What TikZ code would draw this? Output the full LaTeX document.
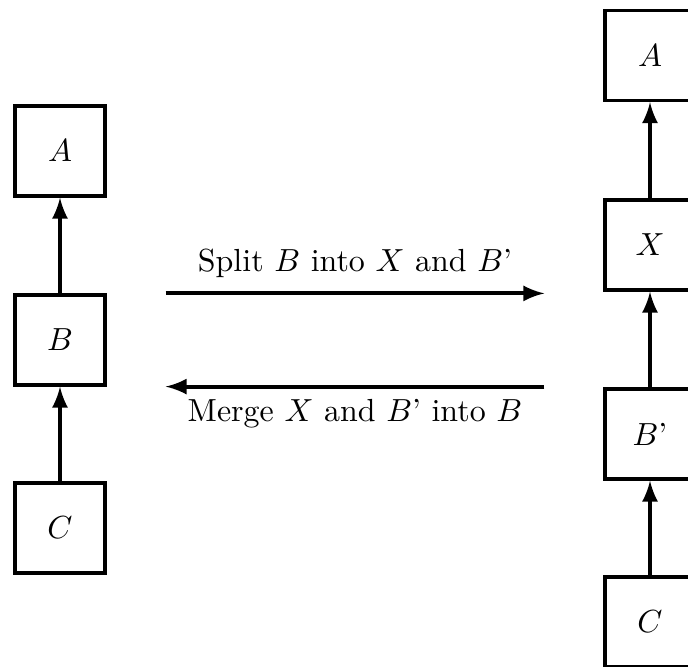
\documentclass[tikz,border=0pt]{standalone}
\usetikzlibrary{calc}
\begin{document}
\begin{tikzpicture}[x=0.011cm,y=-0.011cm,
  blk/.style={draw,line width=1pt,minimum size=90*0.011cm,inner sep=0pt},
  link/.style={line width=1.25pt,-latex}]
\clip (0,0) rectangle (688,666);
\node[blk] (A) at (60,151) {$A$};
\node[blk] (B) at (60,340) {$B$};
\node[blk] (C) at (60,528) {$C$};
\node[blk] (A2) at (650,55.5) {$A$};
\node[blk] (X) at (650,245) {$X$};
\node[blk] (B2) at (650,434) {$B$'};
\node[blk] (C2) at (650,622) {$C$};
\draw[link] (C) -- (B);
\draw[link] (B) -- (A);
\draw[link] (C2) -- (B2);
\draw[link] (B2) -- (X);
\draw[link] (X) -- (A2);
\coordinate (s1) at ($(B.north east)+(59,0)$);
\coordinate (s2) at ($(X.west |- B.north)+(-59,0)$);
\coordinate (m1) at ($(X.west |- B.south)+(-59,0)$);
\coordinate (m2) at ($(B.south east)+(59,0)$);
\draw[link] (s1) -- node[above=1pt] {Split $B$ into $X$ and $B$'} (s2);
\draw[link] (m1) -- node[below=0pt] {Merge $X$ and $B$' into $B$} (m2);
\end{tikzpicture}
\end{document}
